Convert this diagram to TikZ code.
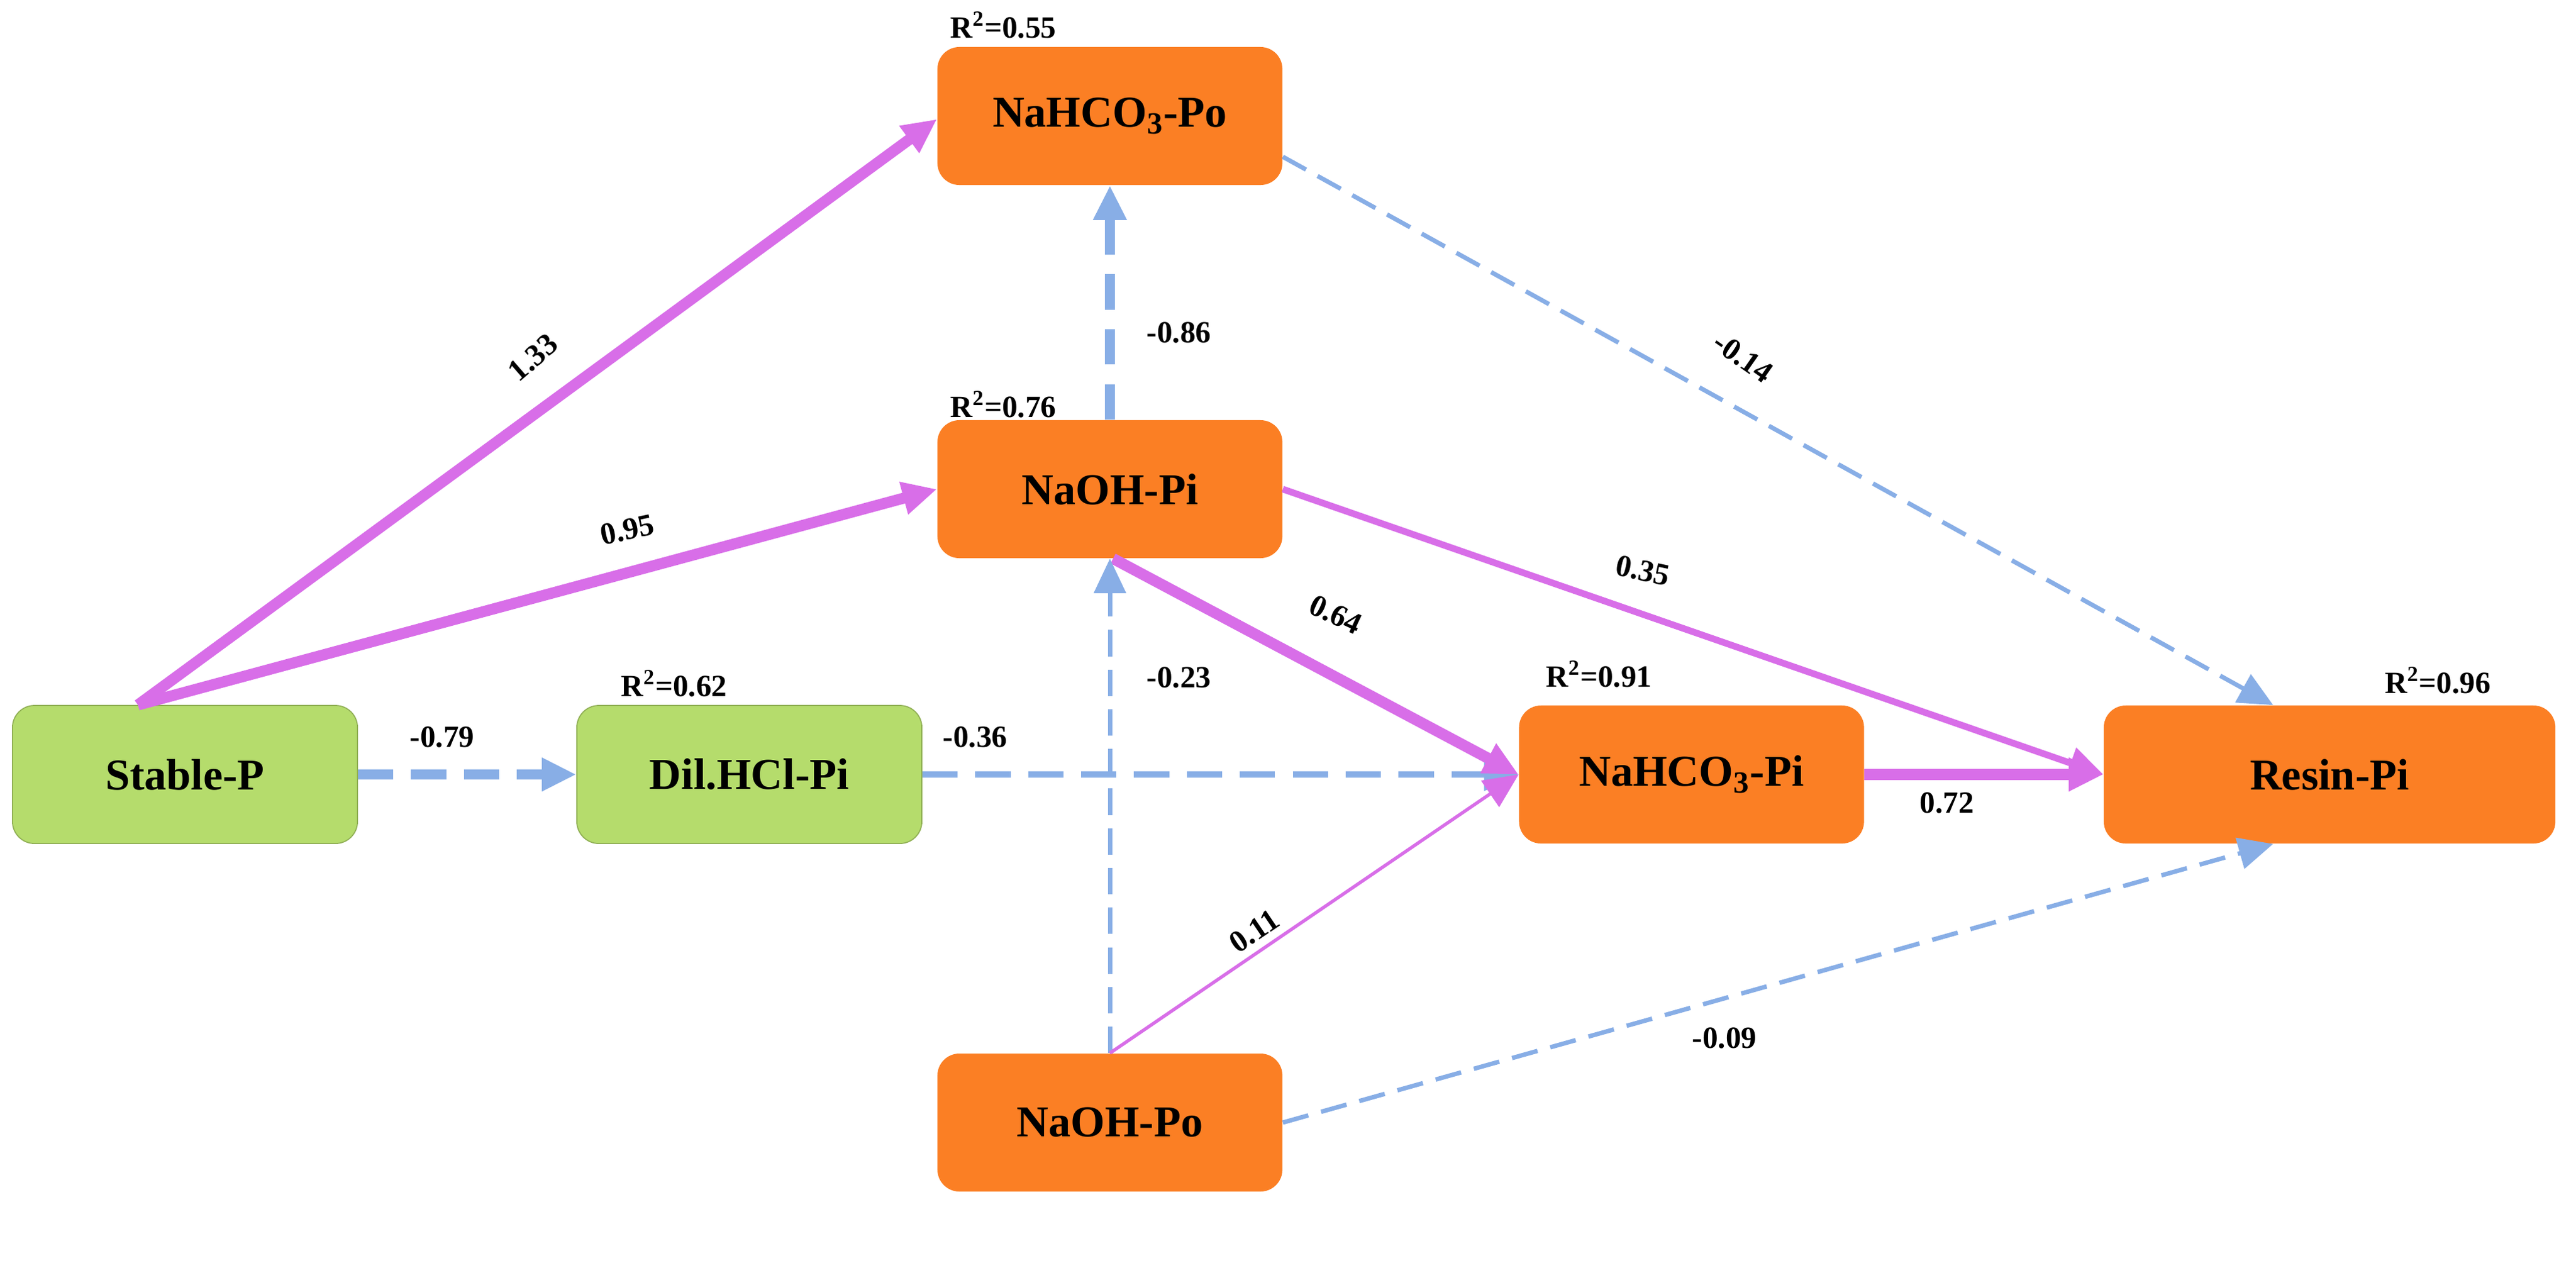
\documentclass[tikz,border=0pt]{standalone}
\usepackage{fontspec}
\setmainfont{Liberation Serif}
\usetikzlibrary{arrows.meta,calc}
\definecolor{mag}{HTML}{D86EE8}
\definecolor{blu}{HTML}{88AEE6}
\definecolor{org}{HTML}{FB7F24}
\definecolor{grn}{HTML}{B5DC6C}
\begin{document}
\begin{tikzpicture}[x=0.025cm,y=-0.025cm,
 box/.style={rounded corners=0.35cm,minimum width=5.5cm,minimum height=2.2cm,font=\bfseries\fontsize{20}{24}\selectfont,inner sep=0},
 ob/.style={box,fill=org},
 gb/.style={box,fill=grn,draw=grn!80!black,line width=0.5pt},
 lab/.style={font=\bfseries\fontsize{14}{16}\selectfont},
 rr/.style={font=\bfseries\fontsize{14}{16}\selectfont},
 pk/.style={draw=mag,-{Triangle[length=0.55cm,width=0.5cm]}},
 bk/.style={draw=blu,dashed,-{Triangle[length=0.55cm,width=0.5cm]}},
 thick1/.style={line width=4.5pt,dash pattern=on 16pt off 9pt},
 med/.style={line width=3pt},
 thin1/.style={line width=1.5pt},
 bthin/.style={line width=2pt,dash pattern=on 12pt off 6pt},
 bmed/.style={line width=3pt,dash pattern=on 16pt off 8pt}]
\useasboundingbox (0,0) rectangle (1643.2,805.2);
\node[ob] (hpo) at (708,74) {NaHCO$_\mathbf{3}$-Po};
\node[ob] (opi) at (708,312) {NaOH-Pi};
\node[gb] (sp) at (118,494) {Stable-P};
\node[gb] (dil) at (478,494) {Dil.HCl-Pi};
\node[ob] (hpi) at (1079,494) {NaHCO$_\mathbf{3}$-Pi};
\node[ob,minimum width=7.2cm] (rpi) at (1486,494) {Resin-Pi};
\node[ob] (opo) at (708,716) {NaOH-Po};
\node[rr] (r1) at (640,16) {R\textsuperscript{2}=0.55};
\node[rr] (r2) at (640,258) {R\textsuperscript{2}=0.76};
\node[rr] (r3) at (430,436) {R\textsuperscript{2}=0.62};
\node[rr] (r4) at (1020,430) {R\textsuperscript{2}=0.91};
\node[rr] (r5) at (1555,434) {R\textsuperscript{2}=0.96};
\coordinate (spt) at ($(sp.north)+(-30,0)$);
\coordinate (hpoL) at ($(hpo.west)+(0,2)$);
\coordinate (hpoR) at ($(hpo.east)+(0,26)$);
\coordinate (rpiT) at ($(rpi.north)+(-36,0)$);
\coordinate (rpiB) at ($(rpi.south)+(-36,0)$);
\coordinate (opiB) at ($(opi.south)+(2,0)$);
\draw[pk,line width=5pt] (spt) -- (hpoL);
\draw[pk,line width=5pt] (spt) -- (opi.west);
\draw[bk,bmed,line width=4.5pt] (sp.east) -- (dil.west);
\draw[bk,bmed] (dil.east) -- (hpi.west);
\draw[bk,thick1] (opi.north) -- (hpo.south);
\draw[bk,bthin] (hpoR) -- (rpiT);
\draw[pk,med] (opi.east) -- (rpi.west);
\draw[pk,line width=5pt] (opiB) -- (hpi.west);
\draw[bk,bthin] (opo.north) -- (opi.south);
\draw[pk,thin1] (opo.north) -- (hpi.west);
\draw[bk,bthin] (opo.east) -- (rpiB);
\draw[pk,line width=5pt] (hpi.east) -- (rpi.west);
\node[lab,rotate=41] (l1) at (340,228) {1.33};
\node[lab,rotate=12] (l2) at (400,338) {0.95};
\node[lab] (l3) at (282,470) {-0.79};
\node[lab] (l4) at (622,470) {-0.36};
\node[lab] (l5) at (752,212) {-0.86};
\node[lab,rotate=-35] (l6) at (1112,228) {-0.14};
\node[lab,rotate=-12] (l7) at (1048,364) {0.35};
\node[lab,rotate=-25] (l8) at (852,392) {0.64};
\node[lab] (l9) at (752,432) {-0.23};
\node[lab,rotate=34] (l10) at (800,594) {0.11};
\node[lab] (l11) at (1100,662) {-0.09};
\node[lab] (l12) at (1242,512) {0.72};
\end{tikzpicture}
\end{document}
